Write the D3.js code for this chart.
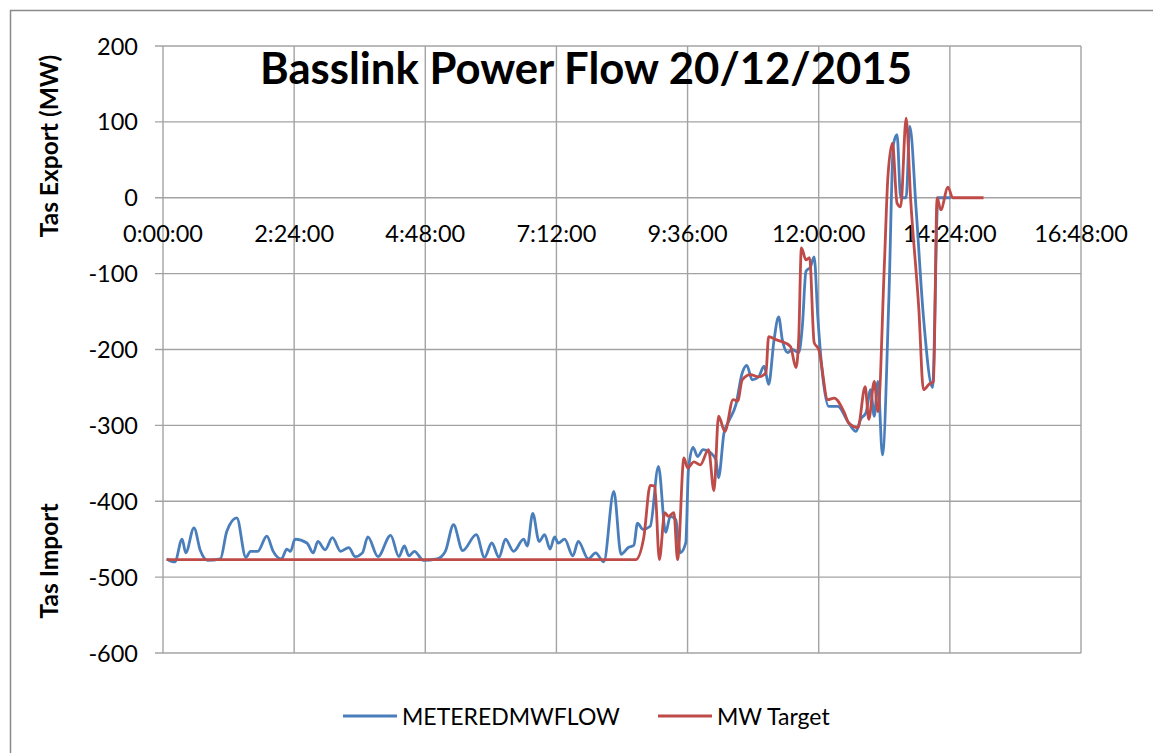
<!DOCTYPE html>
<html>
<head>
<meta charset="utf-8">
<script src="https://cdn.jsdelivr.net/npm/d3@7"></script>
<style>
  body { margin: 0; background: #fff; }
  text { font-family: Lato, "Open Sans", sans-serif; fill: #000; }
</style>
</head>
<body>
<div id="chart"></div>
<script>
// minutes since midnight
const meteredTimes = [4,13,21,25,34,41,49,63,70,81,91,96,104,114,121,130,136,140,145,158,
  165,170,178,186,195,204,211,219,225,236,250,259,265,270,276,286,301,310,319,329,
  344,353,361,369,376,385,396,400,406,413,419,425,430,434,441,450,456,467,475,484,
  495,503,511,517,521,527,535,544,552,557,563,568,574,577,582,587,593,601,607,610,
  616,621,629,636,641,647,654,660,665,671,676,680,686,691,698,702,706,711,715,719,
  724,731,741,752,761,766,772,777,781,785,790,797,802,806,810,816,820,827,835,845,
  851,865];
const meteredValues = [-476,-480,-450,-468,-435,-465,-478,-476,-440,-422,-474,-466,-466,-446,-466,-476,-463,-466,-450,-455,
  -468,-453,-464,-448,-466,-461,-473,-468,-447,-473,-445,-473,-459,-472,-466,-478,-476,-466,-431,-465,
  -444,-474,-455,-474,-450,-466,-450,-459,-416,-453,-444,-463,-447,-455,-450,-472,-453,-476,-468,-480,
  -387,-470,-461,-458,-429,-437,-433,-354,-441,-420,-424,-468,-455,-358,-329,-341,-332,-336,-345,-369,
  -310,-295,-273,-231,-221,-240,-236,-222,-246,-187,-157,-187,-204,-200,-204,-170,-97,-91,-78,-157,
  -231,-275,-275,-295,-308,-292,-283,-253,-288,-242,-339,-134,70,83,0,0,94,-16,-157,-250,
  0,0];

const targetTimes = [4,519,528,535,540,545,551,555,561,565,572,576,583,590,599,605,610,617,626,631,
  636,645,654,662,665,673,678,689,695,698,701,706,710,715,720,730,737,748,753,763,
  771,775,781,785,792,796,801,806,810,816,821,830,835,841,846,850,854,862,867,901];
const targetValues = [-477,-477,-447,-379,-380,-477,-415,-420,-415,-477,-343,-356,-348,-352,-332,-386,-288,-308,-266,-268,
  -240,-233,-236,-231,-183,-187,-189,-196,-224,-187,-66,-82,-79,-191,-200,-266,-264,-283,-297,-303,
  -249,-292,-242,-282,-91,28,72,-7,-12,105,-3,-148,-253,-246,-242,0,-16,14,0,0];

const xTicks = [0,144,288,432,576,720,864,1008];
const yTicks = [200,100,0,-100,-200,-300,-400,-500,-600];
const seriesNames = ['METEREDMWFLOW', 'MW Target'];
const seriesColors = ['#4a7ebb', '#be4b48'];

const width = 1153, height = 753;
const svg = d3.select('#chart').append('svg')
    .attr('width', width)
    .attr('height', height);

// outer chart frame, runs off the picture to the right and bottom
svg.append('rect')
    .attr('x', 10.5).attr('y', 10.5)
    .attr('width', 1200).attr('height', 800)
    .attr('fill', 'none')
    .attr('stroke', '#8a8a8a')
    .attr('stroke-width', 1.5);

const x = d3.scaleLinear().domain([0, 1008]).range([163, 1081]);
const y = d3.scaleLinear().domain([-600, 200]).range([653, 46]);

const fmtTime = m => `${Math.floor(m / 60)}:${String(m % 60).padStart(2, '0')}:00`;

// grid
const grid = svg.append('g').attr('stroke', '#a3a3a3').attr('stroke-width', 1.4);
grid.selectAll('line.h')
    .data(yTicks)
    .join('line')
    .attr('class', 'h')
    .attr('x1', 155).attr('x2', x(1008))
    .attr('y1', d => y(d)).attr('y2', d => y(d));
grid.selectAll('line.v')
    .data(xTicks)
    .join('line')
    .attr('class', 'v')
    .attr('x1', d => x(d)).attr('x2', d => x(d))
    .attr('y1', y(200)).attr('y2', y(-600));

// y tick labels
svg.append('g')
    .selectAll('text')
    .data(yTicks)
    .join('text')
    .attr('x', 138)
    .attr('y', d => y(d) + 8.5)
    .attr('text-anchor', 'end')
    .attr('font-size', 23.5)
    .text(d => d);

// x tick labels sit under the zero line
svg.append('g')
    .selectAll('text')
    .data(xTicks)
    .join('text')
    .attr('x', d => x(d))
    .attr('y', y(0) + 44)
    .attr('text-anchor', 'middle')
    .attr('font-size', 23.5)
    .text(fmtTime);

// axis titles
svg.append('text')
    .attr('transform', 'translate(58,146) rotate(-90)')
    .attr('text-anchor', 'middle')
    .attr('font-size', 24.5)
    .attr('font-weight', 'bold')
    .text('Tas Export (MW)');
svg.append('text')
    .attr('transform', 'translate(58,561) rotate(-90)')
    .attr('text-anchor', 'middle')
    .attr('font-size', 24.5)
    .attr('font-weight', 'bold')
    .text('Tas Import');

// series
const line = d3.line()
    .x(d => x(d[0]))
    .y(d => y(d[1]))
    .curve(d3.curveMonotoneX);

const series = [
    d3.zip(meteredTimes, meteredValues),
    d3.zip(targetTimes, targetValues)
];

svg.append('g')
    .attr('fill', 'none')
    .selectAll('path')
    .data(series)
    .join('path')
    .attr('stroke', (d, i) => seriesColors[i])
    .attr('stroke-width', 2.8)
    .attr('stroke-linejoin', 'round')
    .attr('d', line);

// title
svg.append('text')
    .attr('x', 586)
    .attr('y', 84)
    .attr('text-anchor', 'middle')
    .attr('font-size', 44)
    .attr('font-weight', 'bold')
    .attr('textLength', 652)
    .attr('lengthAdjust', 'spacingAndGlyphs')
    .text('Basslink Power Flow 20/12/2015');

// legend
const legendX = [343, 658];
const legend = svg.append('g')
    .selectAll('g')
    .data(seriesNames)
    .join('g')
    .attr('transform', (d, i) => `translate(${legendX[i]},716)`);
legend.append('line')
    .attr('x1', 0).attr('x2', 54)
    .attr('stroke', (d, i) => seriesColors[i])
    .attr('stroke-width', 2.8);
legend.append('text')
    .attr('x', 59)
    .attr('y', 8.5)
    .attr('font-size', 23)
    .text(d => d);
</script>
</body>
</html>
